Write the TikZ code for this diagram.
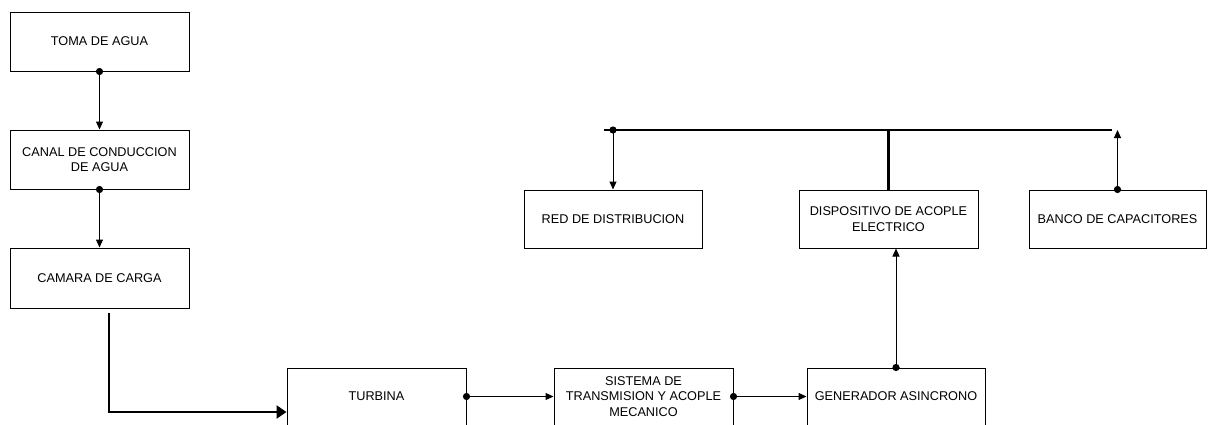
\documentclass[tikz,border=0pt]{standalone}
\usepackage{fontspec}
\setmainfont{Liberation Sans}
\usetikzlibrary{arrows.meta}
\begin{document}
\begin{tikzpicture}[x=1pt,y=-1pt,
  blockbox/.style={draw, line width=1pt, inner sep=0pt, align=center,
    font=\fontsize{12.7pt}{15.5pt}\selectfont, minimum height=59pt},
  flow/.style={line width=1pt, -{Triangle[length=8pt,width=7pt]}},
  mainflow/.style={line width=2.8pt, -{Triangle[length=10pt,width=13pt]}},
  busline/.style={line width=2.8pt},
  joint/.style={fill=black}]
\useasboundingbox (0,0) rectangle (1213,424);
\clip (0,0) rectangle (1213,424);

% water path
\node[blockbox, minimum width=179pt] (toma)   at (99.5,41.5)  {TOMA DE AGUA};
\node[blockbox, minimum width=179pt] (canal)  at (99.5,159.5) {CANAL DE CONDUCCION\\DE AGUA};
\node[blockbox, minimum width=179pt, minimum height=60pt] (camara) at (99.5,278) {CAMARA DE CARGA};

% machine chain along the bottom
\node[blockbox, minimum width=179pt, minimum height=57pt] (turbina) at (376.5,396.5) {TURBINA};
\node[blockbox, minimum width=179pt, minimum height=57pt] (sistema) at (643.5,396.5) {SISTEMA DE\\TRANSMISION Y ACOPLE\\MECANICO};
\node[blockbox, minimum width=178pt, minimum height=57pt] (gen)     at (896,396.5)   {GENERADOR ASINCRONO};

% electrical side
\node[blockbox, minimum width=178pt, minimum height=58pt] (red)   at (613,219)    {RED DE DISTRIBUCION};
\node[blockbox, minimum width=179pt, minimum height=58pt] (disp)  at (888.5,219)  {DISPOSITIVO DE ACOPLE\\ELECTRICO};
\node[blockbox, minimum width=177pt, minimum height=58pt] (banco) at (1117.5,219) {BANCO DE CAPACITORES};

% water connectors
\draw[flow] (toma.south) -- (canal.north);
\fill[joint] (toma.south) circle (3.6pt);
\draw[flow] (canal.south) -- (camara.north);
\fill[joint] (canal.south) circle (3.6pt);

\coordinate (penstock) at (109,313);
\coordinate (bend) at (109,412);
\draw[mainflow] (penstock) -- (bend) -- (bend -| turbina.west);

% mechanical connectors
\draw[flow] (turbina.east) -- (sistema.west);
\fill[joint] (turbina.east) circle (3.6pt);
\draw[flow] (sistema.east) -- (gen.west);
\fill[joint] (sistema.east) circle (3.6pt);

% generator to coupling device
\draw[flow] (gen.north) -- (gen.north |- disp.south);
\fill[joint] (gen.north) circle (3.6pt);

% bus bar
\coordinate (busL) at (604,130);
\coordinate (busR) at (1112,130);
\draw[busline] (busL) -- (busR);
\draw[busline] (disp.north) -- (disp.north |- busL);
\draw[flow] (red.north |- busL) -- (red.north);
\fill[joint] (red.north |- busL) circle (3.6pt);
\draw[flow] (banco.north) -- (banco.north |- busR);
\fill[joint] (banco.north) circle (3.6pt);
\end{tikzpicture}
\end{document}
